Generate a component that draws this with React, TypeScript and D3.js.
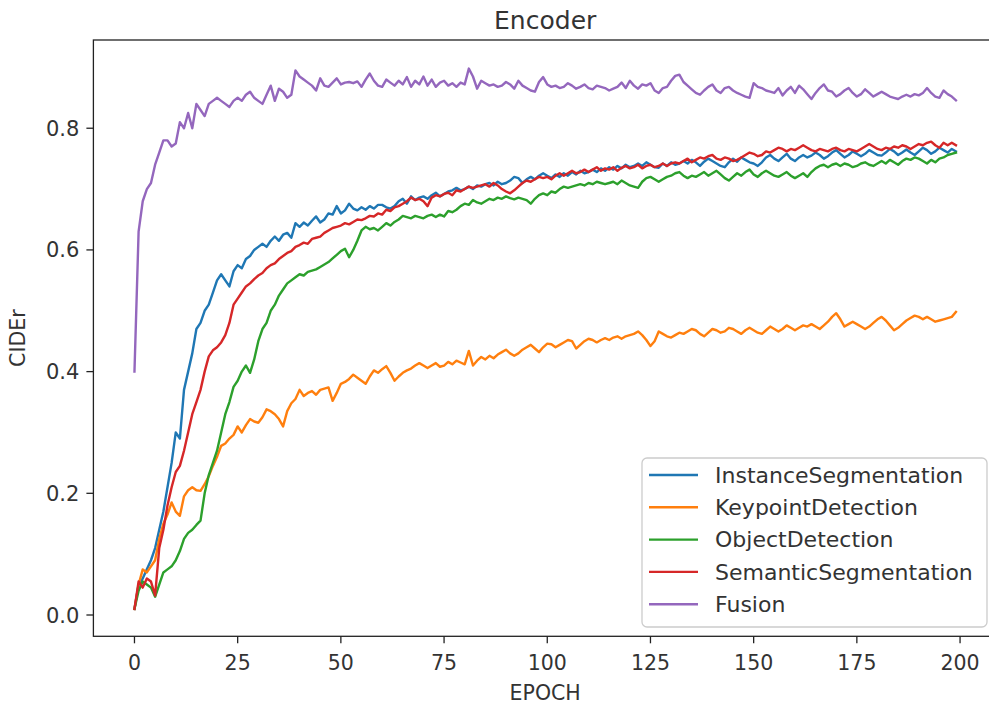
import * as d3 from "d3";

// epochs 0..199
const epochs = d3.range(200);

const instanceSeg = [
  0.01, 0.05, 0.06, 0.075, 0.09, 0.11, 0.14, 0.17, 0.21, 0.25,
  0.3, 0.29, 0.37, 0.4, 0.43, 0.47, 0.48, 0.5, 0.51, 0.53,
  0.55, 0.56, 0.55, 0.54, 0.565, 0.575, 0.57, 0.585, 0.59, 0.6,
  0.605, 0.61, 0.605, 0.615, 0.622, 0.615, 0.625, 0.628, 0.62, 0.644,
  0.638, 0.645, 0.64, 0.648, 0.655, 0.645, 0.65, 0.66, 0.658, 0.672,
  0.66, 0.665, 0.676, 0.668, 0.665, 0.67, 0.666, 0.672, 0.668, 0.674,
  0.674, 0.67, 0.668, 0.672, 0.68, 0.684, 0.676, 0.688, 0.682, 0.686,
  0.688, 0.684, 0.69, 0.694, 0.688, 0.692, 0.696, 0.698, 0.702, 0.698,
  0.7, 0.704, 0.7, 0.706, 0.704, 0.708, 0.71, 0.706, 0.712, 0.708,
  0.71, 0.714, 0.72, 0.718, 0.71, 0.716, 0.72, 0.716, 0.722, 0.726,
  0.722, 0.718, 0.724, 0.72, 0.726, 0.722, 0.728, 0.724, 0.73, 0.726,
  0.728, 0.732, 0.728, 0.734, 0.73, 0.736, 0.732, 0.738, 0.734, 0.74,
  0.736, 0.738, 0.742, 0.738, 0.744, 0.74, 0.736, 0.735, 0.742, 0.738,
  0.744, 0.74, 0.742, 0.746, 0.742, 0.748, 0.744, 0.738, 0.745, 0.75,
  0.746, 0.742, 0.738, 0.736, 0.744, 0.75, 0.745, 0.752, 0.748, 0.744,
  0.742, 0.738, 0.744, 0.752, 0.756, 0.75, 0.746, 0.752, 0.758, 0.75,
  0.746, 0.752, 0.756, 0.752, 0.755, 0.76, 0.756, 0.75, 0.754, 0.76,
  0.764, 0.758, 0.752, 0.756, 0.762, 0.758, 0.754, 0.758, 0.764, 0.76,
  0.756, 0.755, 0.76, 0.766, 0.762, 0.756, 0.76, 0.765, 0.76, 0.756,
  0.762, 0.768, 0.764, 0.758, 0.762, 0.768, 0.764, 0.76, 0.766, 0.762,
];

const keypointDet = [
  0.01, 0.05, 0.075, 0.07, 0.08, 0.09, 0.125, 0.15, 0.165, 0.185,
  0.17, 0.163, 0.195, 0.205, 0.21, 0.205, 0.204, 0.215, 0.228, 0.245,
  0.26, 0.278, 0.282, 0.29, 0.296, 0.31, 0.3, 0.312, 0.322, 0.318,
  0.316, 0.325, 0.338, 0.335, 0.33, 0.322, 0.31, 0.335, 0.348, 0.355,
  0.37, 0.36, 0.365, 0.368, 0.362, 0.37, 0.372, 0.374, 0.352, 0.365,
  0.38, 0.383, 0.388, 0.395, 0.39, 0.385, 0.38, 0.392, 0.402, 0.398,
  0.404, 0.409, 0.398, 0.385, 0.392, 0.398, 0.402, 0.405, 0.41, 0.414,
  0.41, 0.406, 0.41, 0.414, 0.408, 0.41, 0.416, 0.412, 0.418, 0.415,
  0.412, 0.434, 0.41, 0.418, 0.424, 0.42, 0.426, 0.422, 0.428, 0.432,
  0.436, 0.43, 0.426, 0.43, 0.436, 0.44, 0.444, 0.438, 0.432, 0.44,
  0.446, 0.445, 0.44, 0.444, 0.448, 0.452, 0.45, 0.438, 0.444, 0.45,
  0.454, 0.452, 0.448, 0.452, 0.455, 0.452, 0.456, 0.458, 0.454, 0.458,
  0.46, 0.462, 0.466, 0.46, 0.452, 0.442, 0.45, 0.466, 0.462, 0.458,
  0.456, 0.46, 0.464, 0.462, 0.466, 0.47, 0.468, 0.462, 0.458, 0.464,
  0.47, 0.468, 0.464, 0.466, 0.472, 0.47, 0.466, 0.462, 0.468, 0.472,
  0.468, 0.464, 0.462, 0.468, 0.474, 0.47, 0.466, 0.47, 0.476, 0.472,
  0.468, 0.472, 0.476, 0.474, 0.478, 0.474, 0.47, 0.476, 0.482, 0.49,
  0.496, 0.486, 0.474, 0.478, 0.482, 0.478, 0.474, 0.47, 0.474, 0.48,
  0.486, 0.49, 0.484, 0.476, 0.468, 0.472, 0.478, 0.484, 0.488, 0.492,
  0.49, 0.486, 0.49, 0.486, 0.482, 0.484, 0.486, 0.488, 0.49, 0.498,
];

const objectDet = [
  0.01, 0.04, 0.055, 0.05, 0.045, 0.03, 0.05, 0.07, 0.075, 0.08,
  0.09, 0.105, 0.125, 0.135, 0.14, 0.148, 0.155, 0.2, 0.23, 0.25,
  0.27, 0.3, 0.33, 0.35, 0.375, 0.385, 0.4, 0.41, 0.398, 0.42,
  0.45, 0.47, 0.48, 0.5, 0.51, 0.525, 0.535, 0.545, 0.55, 0.555,
  0.56, 0.558, 0.564, 0.566, 0.568, 0.572, 0.576, 0.58, 0.586, 0.592,
  0.598, 0.602, 0.588, 0.6, 0.615, 0.632, 0.638, 0.634, 0.636, 0.632,
  0.638, 0.644, 0.64, 0.646, 0.65, 0.656, 0.654, 0.652, 0.656, 0.654,
  0.652, 0.656, 0.658, 0.654, 0.658, 0.655, 0.664, 0.662, 0.666, 0.672,
  0.676, 0.674, 0.682, 0.678, 0.676, 0.68, 0.684, 0.682, 0.686, 0.684,
  0.688, 0.685, 0.683, 0.686, 0.684, 0.682, 0.676, 0.684, 0.69, 0.693,
  0.69, 0.696, 0.694, 0.7, 0.704, 0.702, 0.704, 0.706, 0.708, 0.706,
  0.71, 0.708, 0.712, 0.71, 0.708, 0.71, 0.712, 0.708, 0.714, 0.71,
  0.706, 0.704, 0.702, 0.712, 0.718, 0.72, 0.716, 0.712, 0.716, 0.72,
  0.722, 0.726, 0.728, 0.722, 0.718, 0.722, 0.72, 0.724, 0.728, 0.722,
  0.726, 0.73, 0.724, 0.718, 0.714, 0.72, 0.726, 0.722, 0.728, 0.732,
  0.724, 0.72, 0.726, 0.73, 0.726, 0.722, 0.72, 0.724, 0.728, 0.722,
  0.718, 0.722, 0.726, 0.72, 0.728, 0.734, 0.738, 0.74, 0.736, 0.74,
  0.742, 0.738, 0.742, 0.74, 0.736, 0.738, 0.742, 0.744, 0.74, 0.738,
  0.742, 0.746, 0.742, 0.748, 0.744, 0.74, 0.746, 0.75, 0.748, 0.752,
  0.75, 0.746, 0.742, 0.748, 0.744, 0.75, 0.752, 0.756, 0.758, 0.76,
];

const semanticSeg = [
  0.01, 0.055, 0.045, 0.06, 0.055, 0.032, 0.11, 0.14, 0.18, 0.21,
  0.235, 0.245, 0.27, 0.3, 0.33, 0.35, 0.37, 0.4, 0.425, 0.435,
  0.44, 0.448, 0.46, 0.48, 0.51, 0.52, 0.53, 0.54, 0.545, 0.552,
  0.558, 0.562, 0.57, 0.575, 0.578, 0.585, 0.59, 0.595, 0.598, 0.605,
  0.608, 0.612, 0.61, 0.618, 0.62, 0.622, 0.628, 0.632, 0.636, 0.638,
  0.64, 0.644, 0.642, 0.646, 0.65, 0.649, 0.652, 0.656, 0.655, 0.66,
  0.658, 0.666, 0.664, 0.67, 0.672, 0.676, 0.68, 0.686, 0.682, 0.684,
  0.68, 0.672, 0.686, 0.69, 0.688, 0.692, 0.694, 0.69, 0.698, 0.696,
  0.7, 0.704, 0.702, 0.704, 0.706, 0.708, 0.704, 0.71, 0.706, 0.7,
  0.696, 0.693, 0.698, 0.704, 0.71, 0.714, 0.712, 0.716, 0.72, 0.718,
  0.72, 0.716, 0.722, 0.726, 0.722, 0.726, 0.73, 0.726, 0.728, 0.732,
  0.728, 0.732, 0.736, 0.73, 0.734, 0.732, 0.736, 0.73, 0.735, 0.738,
  0.734, 0.736, 0.74, 0.734, 0.738, 0.74, 0.736, 0.738, 0.742, 0.738,
  0.742, 0.744, 0.742, 0.746, 0.75, 0.744, 0.748, 0.752, 0.75, 0.754,
  0.756, 0.75, 0.748, 0.752, 0.75, 0.746, 0.748, 0.752, 0.756, 0.76,
  0.758, 0.754, 0.756, 0.762, 0.76, 0.764, 0.768, 0.766, 0.762, 0.766,
  0.764, 0.768, 0.772, 0.768, 0.764, 0.762, 0.766, 0.764, 0.762, 0.766,
  0.768, 0.764, 0.762, 0.766, 0.764, 0.762, 0.766, 0.77, 0.774, 0.77,
  0.766, 0.764, 0.768, 0.766, 0.77, 0.768, 0.772, 0.77, 0.766, 0.77,
  0.774, 0.772, 0.776, 0.778, 0.772, 0.768, 0.776, 0.772, 0.776, 0.772,
];

const fusion = [
  0.4, 0.63, 0.68, 0.7, 0.71, 0.74, 0.76, 0.78, 0.78, 0.77,
  0.775, 0.81, 0.8, 0.825, 0.8, 0.84, 0.83, 0.82, 0.84, 0.845,
  0.85, 0.845, 0.84, 0.835, 0.845, 0.85, 0.845, 0.855, 0.86, 0.85,
  0.845, 0.84, 0.855, 0.87, 0.845, 0.865, 0.86, 0.85, 0.855, 0.895,
  0.885, 0.88, 0.875, 0.87, 0.862, 0.882, 0.87, 0.868, 0.875, 0.882,
  0.872, 0.875, 0.876, 0.874, 0.877, 0.868, 0.88, 0.89, 0.878, 0.87,
  0.868, 0.88, 0.875, 0.87, 0.878, 0.872, 0.884, 0.868, 0.878, 0.872,
  0.885, 0.87, 0.88, 0.868, 0.875, 0.878, 0.87, 0.874, 0.868, 0.875,
  0.872, 0.898, 0.885, 0.865, 0.878, 0.874, 0.87, 0.872, 0.868, 0.87,
  0.876, 0.872, 0.865, 0.878, 0.87, 0.866, 0.862, 0.86, 0.876, 0.884,
  0.872, 0.868, 0.87, 0.866, 0.868, 0.874, 0.87, 0.865, 0.868, 0.872,
  0.866, 0.864, 0.87, 0.868, 0.866, 0.862, 0.865, 0.868, 0.875, 0.866,
  0.878, 0.87, 0.865, 0.872, 0.87, 0.874, 0.862, 0.858, 0.866, 0.868,
  0.878, 0.886, 0.888, 0.876, 0.87, 0.864, 0.858, 0.855, 0.862, 0.868,
  0.872, 0.862, 0.858, 0.866, 0.868, 0.862, 0.858, 0.855, 0.852, 0.85,
  0.874, 0.868, 0.866, 0.862, 0.86, 0.858, 0.866, 0.854, 0.862, 0.868,
  0.858, 0.87, 0.864, 0.856, 0.848, 0.858, 0.866, 0.872, 0.862, 0.86,
  0.852, 0.856, 0.862, 0.866, 0.858, 0.852, 0.856, 0.864, 0.858, 0.852,
  0.856, 0.86, 0.856, 0.852, 0.85, 0.848, 0.852, 0.855, 0.852, 0.856,
  0.854, 0.858, 0.866, 0.858, 0.852, 0.85, 0.862, 0.856, 0.852, 0.846,
];

const seriesNames = [
  "InstanceSegmentation",
  "KeypointDetection",
  "ObjectDetection",
  "SemanticSegmentation",
  "Fusion",
];
const seriesValues = [instanceSeg, keypointDet, objectDet, semanticSeg, fusion];
const colors = ["#1f77b4", "#ff7f0e", "#2ca02c", "#d62728", "#9467bd"];

const xTicks = [0, 25, 50, 75, 100, 125, 150, 175, 200];
const yTicks = [0.0, 0.2, 0.4, 0.6, 0.8];

const W = 989;
const H = 709;
const left = 93.4;
const right = 997;
const top = 40;
const bottom = 636.3;
const font = "'DejaVu Sans', sans-serif";

export default function App() {
  const x = d3.scaleLinear().domain([-9.95, 208.95]).range([left, right]);
  const y = d3.scaleLinear().domain([-0.035, 0.945]).range([bottom, top]);

  const line = d3
    .line<number>()
    .x((_, i) => x(epochs[i]))
    .y((d) => y(d));

  return (
    <svg
      width={W}
      height={H}
      style={{ position: "absolute", left: 0, top: 0, background: "#fff" }}
      fontFamily={font}
    >
      <rect x={0} y={0} width={W} height={H} fill="#fff" />

      {/* lines */}
      <g>
        {seriesValues.map((vals, k) => (
          <path
            key={seriesNames[k]}
            d={line(vals) || ""}
            fill="none"
            stroke={colors[k]}
            strokeWidth={2.4}
            strokeLinejoin="round"
            strokeLinecap="square"
          />
        ))}
      </g>

      {/* spines */}
      <rect
        x={left}
        y={top}
        width={right - left}
        height={bottom - top}
        fill="none"
        stroke="#222"
        strokeWidth={1.3}
      />

      {/* x axis ticks */}
      {xTicks.map((t) => (
        <g key={"x" + t} transform={`translate(${x(t)},0)`}>
          <line y1={bottom} y2={bottom + 7} stroke="#222" strokeWidth={1.3} />
          <text
            y={bottom + 34}
            textAnchor="middle"
            fontSize={20.5}
            fill="#333"
          >
            {t}
          </text>
        </g>
      ))}

      {/* y axis ticks */}
      {yTicks.map((t) => (
        <g key={"y" + t} transform={`translate(0,${y(t)})`}>
          <line x1={left - 7} x2={left} stroke="#222" strokeWidth={1.3} />
          <text
            x={left - 14}
            dy="0.36em"
            textAnchor="end"
            fontSize={21}
            fill="#333"
          >
            {t.toFixed(1)}
          </text>
        </g>
      ))}

      {/* labels */}
      <text
        x={(left + right) / 2}
        y={28.5}
        textAnchor="middle"
        fontSize={25}
        fill="#333"
      >
        Encoder
      </text>
      <text
        x={(left + right) / 2}
        y={700}
        textAnchor="middle"
        fontSize={20.5}
        fill="#333"
      >
        EPOCH
      </text>
      <text
        transform={`translate(25,${(top + bottom) / 2}) rotate(-90)`}
        textAnchor="middle"
        fontSize={20.5}
        fill="#333"
      >
        CIDEr
      </text>

      {/* legend */}
      <g>
        <rect
          x={642}
          y={458}
          width={345}
          height={169}
          rx={5}
          fill="#fff"
          fillOpacity={0.8}
          stroke="#cccccc"
          strokeWidth={1.3}
        />
        {seriesNames.map((name, k) => {
          const cy = 475 + k * 32.3;
          return (
            <g key={"lg" + name}>
              <line
                x1={649}
                x2={698}
                y1={cy}
                y2={cy}
                stroke={colors[k]}
                strokeWidth={2.4}
              />
              <text x={715} y={cy + 7.8} fontSize={22} fill="#333">
                {name}
              </text>
            </g>
          );
        })}
      </g>
    </svg>
  );
}
